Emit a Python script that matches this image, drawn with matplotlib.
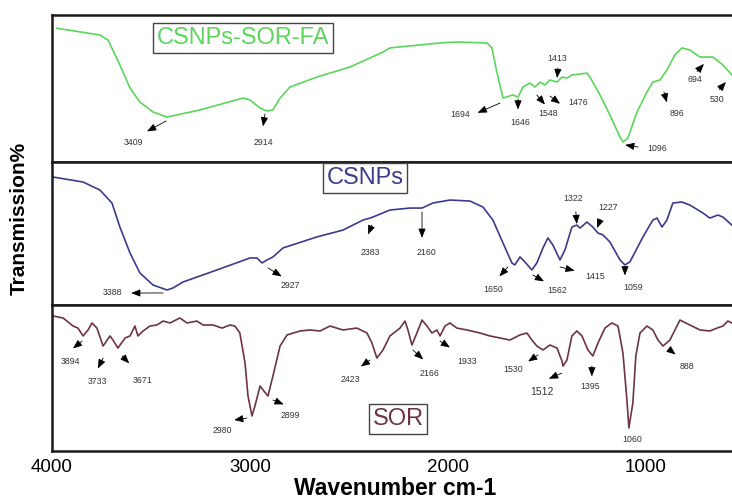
#!/usr/bin/env python3
"""
FTIR spectra of CSNPs-SOR-FA, CSNPs and SOR, stacked in three panels.
"""
import matplotlib

matplotlib.use("Agg")
import matplotlib.pyplot as plt

plt.rcParams["font.family"] = ["Liberation Sans", "DejaVu Sans"]

# --- CSNPs-SOR-FA (top panel) ---
FA_WN = [3976, 3758, 3717, 3657, 3606, 3556, 3490, 3419, 3253, 3035, 3000,
         2949, 2914, 2884, 2848, 2798, 2662, 2495, 2328, 2293, 2040, 1955,
         1803, 1778, 1753, 1722, 1672, 1646, 1621, 1586, 1561, 1535, 1510,
         1485, 1449, 1424, 1399, 1374, 1298, 1283, 1232, 1182, 1131, 1116,
         1091, 1045, 995, 965, 929, 894, 854, 818, 778, 727, 662, 611, 566]
FA_T = [91, 86.4, 83, 66, 50.3, 40.8, 34, 30.6, 35.4, 43.5, 42.2,
        36.7, 34.7, 35.4, 43.5, 51, 57.8, 64.6, 74.8, 77.6, 81, 81.6,
        81, 77.6, 61.2, 43.5, 45.6, 44.2, 51, 53.7, 51, 54.4, 52.4,
        55.8, 54.4, 57.8, 57.1, 59.2, 60.5, 57.8, 45.6, 32, 17, 13.6,
        16.3, 34, 47.6, 54.4, 55.8, 62.6, 72.8, 77.6, 76.2, 71.4, 71.4, 66, 59.2]

# --- CSNPs (middle panel) ---
CS_WN = [3995, 3843, 3758, 3697, 3657, 3606, 3556, 3490, 3419, 3389, 3338,
         3167, 3000, 2965, 2939, 2914, 2884, 2833, 2662, 2530, 2429, 2394,
         2379, 2293, 2192, 2131, 2076, 1990, 1889, 1823, 1773, 1722, 1677,
         1662, 1636, 1611, 1576, 1551, 1520, 1495, 1470, 1434, 1409, 1374,
         1349, 1333, 1298, 1268, 1242, 1217, 1182, 1131, 1106, 1081, 1015,
         965, 944, 919, 894, 864, 818, 778, 712, 677, 636, 611, 566]
CS_T = [89.5, 86, 80.4, 71.3, 54.5, 36.4, 22.4, 14, 10.5, 11.9, 16.1,
        24.5, 32.9, 32.9, 29.4, 31.5, 33.6, 39.9, 47.6, 52.4, 59.4, 60.8,
        61.5, 66.4, 67.8, 67.8, 71.3, 73.4, 72.7, 68.5, 59.4, 43.4, 29.4,
        28, 33.6, 30.1, 24.5, 29.4, 39.9, 46.9, 42, 31.5, 38.5, 54.5,
        55.9, 53.8, 58, 54.5, 50.3, 49, 44.1, 31.5, 28, 30.1, 47.6,
        59.4, 60.8, 54.5, 59.4, 71.3, 72, 69.9, 64.3, 60.8, 62.9, 61.5, 55.9]

# --- SOR (bottom panel) ---
SOR_WN = [3995, 3944, 3894, 3869, 3843, 3818, 3798, 3773, 3742, 3707, 3692,
          3667, 3631, 3606, 3581, 3566, 3540, 3505, 3470, 3439, 3404, 3354,
          3318, 3268, 3237, 3187, 3141, 3101, 3076, 3051, 3025, 3010, 2990,
          2975, 2949, 2934, 2909, 2884, 2848, 2813, 2747, 2697, 2646, 2596,
          2530, 2460, 2409, 2384, 2359, 2328, 2293, 2242, 2217, 2202, 2182,
          2157, 2131, 2106, 2081, 2056, 2040, 2015, 1990, 1955, 1904, 1838,
          1788, 1737, 1687, 1636, 1601, 1576, 1551, 1520, 1485, 1449, 1424,
          1419, 1399, 1374, 1349, 1323, 1293, 1268, 1242, 1207, 1172, 1141,
          1116, 1096, 1086, 1066, 1051, 1030, 995, 965, 939, 914, 879, 828,
          778, 727, 677, 641, 611, 586, 566]
SOR_T = [92.5, 91.1, 85.6, 84.2, 78.8, 82.9, 87.7, 84.2, 71.9, 78.8, 76,
         70.5, 77.4, 78.8, 85.6, 78.8, 82.2, 85.6, 86.3, 89, 87.7, 91.1,
         87.7, 89, 86.3, 86.3, 84.2, 86.3, 85.6, 80.8, 60.3, 37.7, 24,
         30.8, 44.5, 41.8, 37.7, 51.4, 71.9, 79.5, 82.2, 82.9, 82.2, 85.6,
         82.9, 84.2, 80.8, 74, 63.7, 69.2, 78.8, 84.2, 89, 82.9, 72.6,
         80.8, 89.7, 85.6, 80.8, 82.9, 78.8, 85.6, 87.7, 84.2, 82.9, 80.8,
         78.8, 77.4, 76, 79.5, 80.8, 76, 71.9, 69.2, 72.6, 70.5, 61.6,
         58.2, 62.3, 78.8, 82.2, 78.8, 69.2, 65.1, 74, 84.2, 87.7, 85.6,
         67.1, 34.9, 15.8, 32.9, 65.1, 80.8, 85.6, 82.9, 76, 71.9, 76, 89.7,
         86.3, 82.9, 82.2, 84.2, 85.6, 89, 87.7]

NAMES = ["CSNPs-SOR-FA", "CSNPs", "SOR"]
XTICKS = [4000, 3000, 2000, 1000]

# peak labels: (text, text pos, arrow head, arrow line end) -- None = no arrow
FA_PEAKS = [
    ("3409", (3591, 13.6), (3520, 20.8), (3424, 27.9)),
    ("2914", (2934, 13.6), (2934, 24.2), (2924, 32.7)),
    ("1694", (1939, 32.0), (1850, 33.5), (1737, 40.1)),
    ("1646", (1636, 27.2), (1646, 35.7), (1646, 42.9)),
    ("1548", (1495, 32.7), (1510, 39.1), (1551, 45.6)),
    ("1476", (1343, 40.8), (1434, 39.6), (1485, 44.9)),
    ("1413", (1449, 70.7), (1449, 57.1), (1444, 64.0)),
    ("1096", (944, 9.5), (1105, 11.6), (1040, 10.2)),
    ("896", (843, 33.3), (894, 40.5), (909, 47.6)),
    ("694", (753, 55.8), (707, 66.7), (742, 61.6)),
    ("530", (641, 42.2), (596, 54.4), (630, 49.3)),
]
CS_PEAKS = [
    ("3388", (3697, 8.4), (3600, 8.4), (3439, 8.4)),
    ("2927", (2798, 13.3), (2840, 20.0), (2909, 25.9)),
    ("2383", (2394, 36.4), (2404, 49.3), (2384, 55.9)),
    ("2160", (2106, 36.4), (2131, 47.0), (2131, 65.0)),
    ("1650", (1773, 10.5), (1740, 20.0), (1697, 26.6)),
    ("1562", (1449, 9.8), (1515, 16.5), (1571, 21.0)),
    ("1415", (1258, 19.6), (1360, 24.0), (1434, 26.6)),
    ("1059", (1066, 11.9), (1106, 20.7), (1106, 26.6)),
    ("1322", (1369, 74.8), (1349, 56.6), (1354, 65.2)),
    ("1227", (1192, 68.5), (1247, 53.8), (1230, 59.7)),
]
SOR_PEAKS = [
    ("3894", (3909, 61.0), (3894, 70.2), (3848, 75.3)),
    ("3733", (3773, 47.9), (3768, 56.5), (3742, 63.7)),
    ("3671", (3545, 48.6), (3610, 60.0), (3646, 65.1)),
    ("2980", (3141, 13.7), (3080, 21.2), (3015, 22.6)),
    ("2899", (2798, 24.0), (2830, 31.9), (2884, 34.9)),
    ("2423", (2495, 49.3), (2440, 57.9), (2394, 62.3)),
    ("2166", (2091, 53.4), (2125, 62.7), (2177, 69.2)),
    ("1933", (1904, 61.6), (1990, 70.9), (2040, 75.3)),
    ("1530", (1672, 55.5), (1595, 61.3), (1545, 65.8)),
    ("1512", (1525, 40.4), (1490, 49.5), (1424, 53.4)),
    ("1395", (1283, 44.5), (1273, 51.1), (1273, 58.2)),
    ("1060", (1071, 8.2), None, None),
    ("888", (793, 58.2), (850, 66.1), (879, 69.2)),
]

W, H = 732, 498
LEFT, RIGHT = 52, 736  # right spine falls just outside the picture
PANELS = [(15, 162), (162, 305), (305, 451)]  # top/bottom pixel rows

COLORS = ["#5bd65b", "#3b3b8e", "#6e3346"]
BOX_POS = [(243, 38), (365, 178), (398, 419)]


def add_axes(fig, top, bottom):
    ax = fig.add_axes([LEFT / W, 1 - bottom / H, (RIGHT - LEFT) / W, (bottom - top) / H])
    ax.set_xlim(4000, 545)
    ax.set_ylim(0, 100)
    ax.set_yticks([])
    for s in ax.spines.values():
        s.set_linewidth(1.8)
        s.set_color("#1a1a1a")
    return ax


def label_peaks(ax, peaks, big=()):
    for text, pos, head, end in peaks:
        size = 7.5 if text in big else 6.3
        ax.text(*pos, text, fontsize=size, color="#333333", ha="center", va="center")
        if head is None:
            continue
        ax.annotate(
            "", xy=head, xytext=end,
            arrowprops=dict(arrowstyle="-|>,head_length=0.55,head_width=0.22",
                            fc="black", ec="black", lw=0.6, shrinkA=0, shrinkB=0),
        )


fig = plt.figure(figsize=(W / 100, H / 100), dpi=100)

series = [(FA_WN, FA_T, FA_PEAKS), (CS_WN, CS_T, CS_PEAKS), (SOR_WN, SOR_T, SOR_PEAKS)]
for i, ((wn, t, peaks), (top, bot)) in enumerate(zip(series, PANELS)):
    ax = add_axes(fig, top, bot)
    ax.plot(wn, t, color=COLORS[i], lw=1.2)
    label_peaks(ax, peaks, big=("1512",))
    bx, by = BOX_POS[i]
    fig.text(bx / W, 1 - by / H, NAMES[i], fontsize=17, color=COLORS[i],
             ha="center", va="center",
             bbox=dict(boxstyle="square,pad=0.15", fc="white", ec="#444444", lw=1.0))
    if i < 2:
        ax.set_xticks([])
    else:
        ax.set_xticks(XTICKS)
        ax.tick_params(axis="x", length=0, pad=6, labelsize=13.5)

fig.text(395 / W, 1 - 488 / H, "Wavenumber cm-1", fontsize=16.5, fontweight="bold",
         ha="center", va="center")
fig.text(19 / W, 1 - 218 / H, "Transmission%", fontsize=15, fontweight="bold",
         rotation=90, ha="center", va="center")

fig.savefig("out.png", dpi=100)
